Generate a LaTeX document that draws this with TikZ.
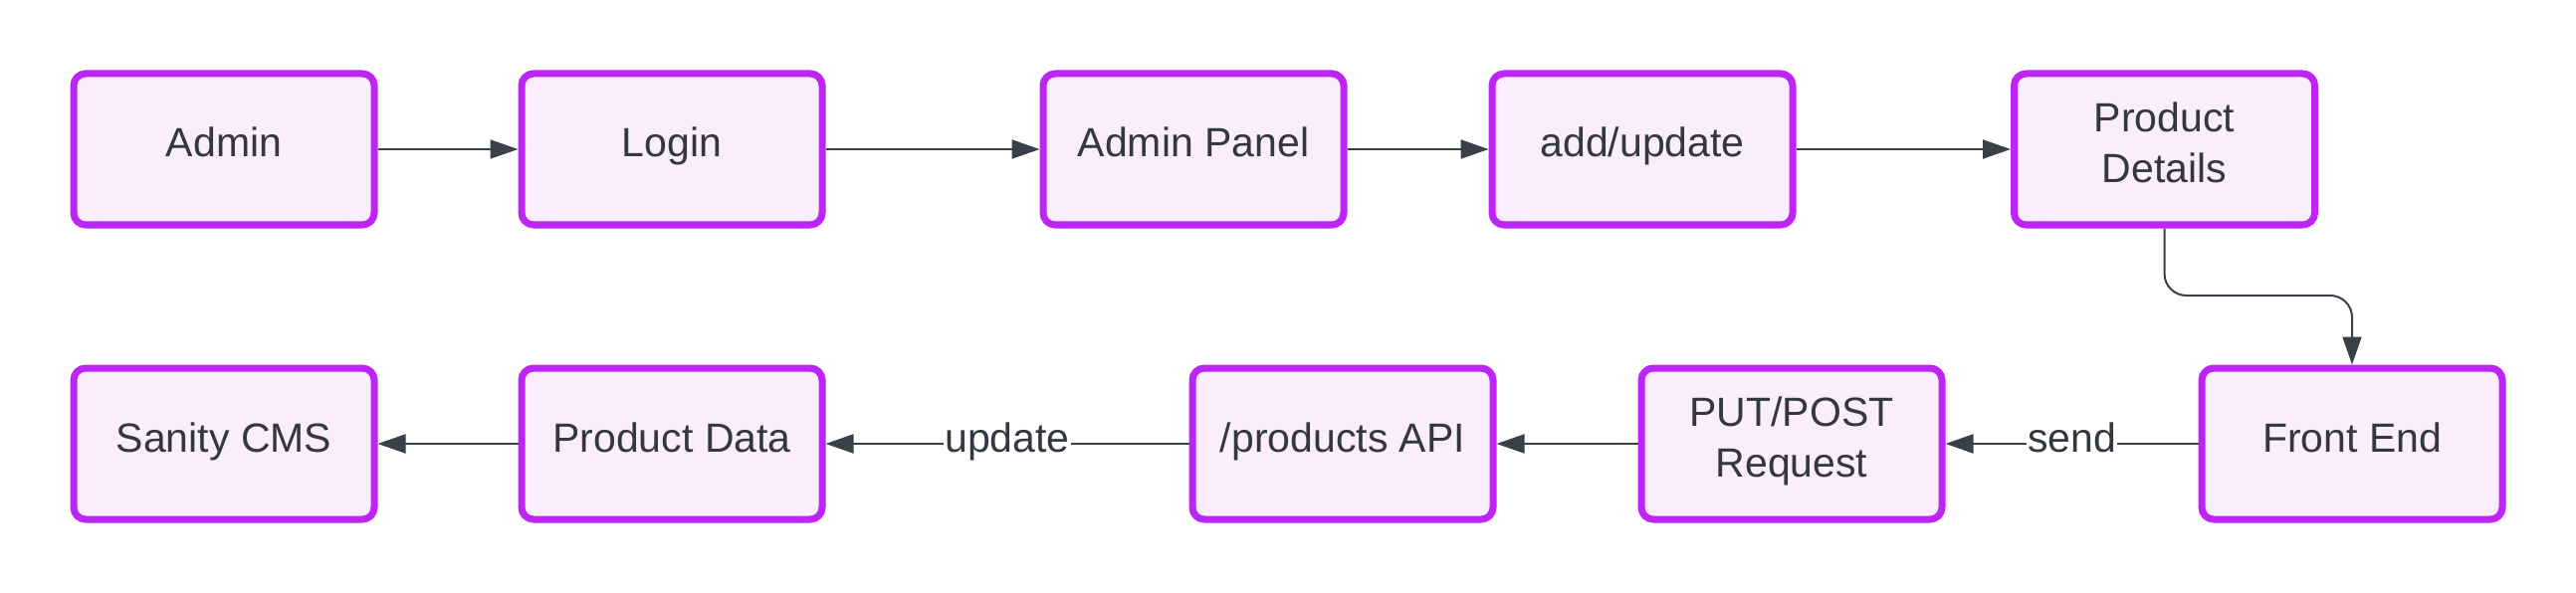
\documentclass[tikz,border=0pt]{standalone}
\usepackage{fontspec}
\setmainfont{Liberation Sans}
\usetikzlibrary{arrows.meta}
\definecolor{boxborder}{RGB}{189,36,245}
\definecolor{boxfill}{RGB}{250,237,254}
\definecolor{txt}{RGB}{51,56,64}
\definecolor{edgecol}{RGB}{58,64,72}
\newcommand{\lstrut}{\rule[-14pt]{0pt}{44pt}}
\tikzset{
  box/.style={draw=boxborder, fill=boxfill, line width=7pt, rounded corners=12pt,
    minimum width=302pt, minimum height=152pt, text=txt,
    font=\fontsize{41}{51}\selectfont, align=center, inner sep=0pt},
  conn/.style={draw=edgecol, line width=2pt, -{Triangle[length=28pt,width=19pt]}},
  lbl/.style={fill=white, text=txt, font=\fontsize{41}{51}\selectfont, inner sep=1pt}
}
\begin{document}
\begin{tikzpicture}[x=1pt,y=-1pt]
\useasboundingbox[fill=white] (0,0) rectangle (2588,596);
\node[box] (admin) at (225,150) {\lstrut Admin};
\node[box] (login) at (675,150) {\lstrut Login};
\node[box] (panel) at (1199,150) {\lstrut Admin Panel};
\node[box] (addup) at (1650,150) {\lstrut add/update};
\node[box] (pdet) at (2174.5,150) {\lstrut Product\\\lstrut Details};
\node[box] (sanity) at (225,446) {\lstrut Sanity CMS};
\node[box] (pdata) at (675,446) {\lstrut Product Data};
\node[box] (api) at (1349,446) {\lstrut /products API};
\node[box] (req) at (1800,446) {\lstrut PUT/POST\\\lstrut Request};
\node[box] (front) at (2363,446) {\lstrut Front End};
\coordinate (bend) at (2300,297);
\draw[conn] (admin) -- (login);
\draw[conn] (login) -- (panel);
\draw[conn] (panel) -- (addup);
\draw[conn] (addup) -- (pdet);
\draw[conn, rounded corners=22pt] (pdet.south) |- (bend) -| (front.north);
\draw[conn] (front) -- node[lbl]{\lstrut send} (req);
\draw[conn] (req) -- (api);
\draw[conn] (api) -- node[lbl]{\lstrut update} (pdata);
\draw[conn] (pdata) -- (sanity);
\end{tikzpicture}
\end{document}
